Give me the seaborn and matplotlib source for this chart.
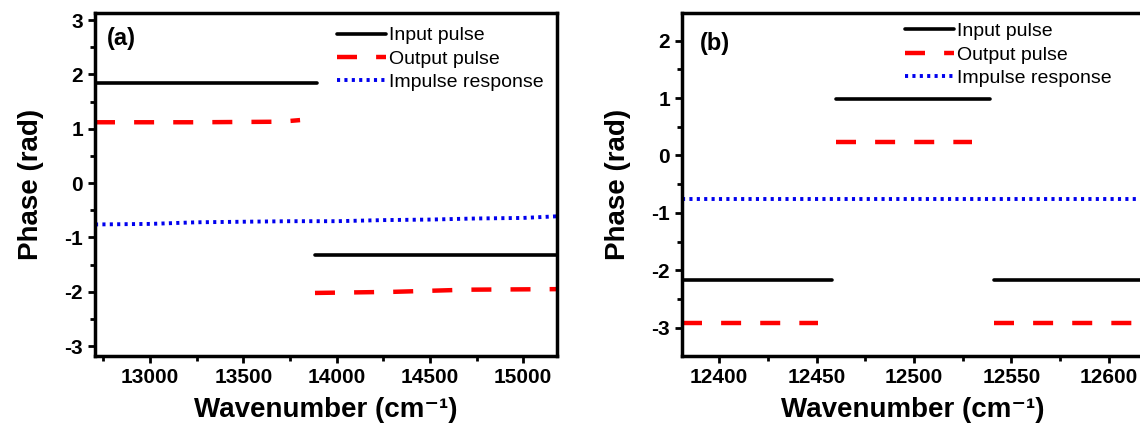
import numpy as np
import pandas as pd
import seaborn as sns
import matplotlib
matplotlib.use("Agg")
import matplotlib.pyplot as plt
from matplotlib.ticker import MultipleLocator

# ---------------- data: panel (a) ----------------
a_input_x = [[12705, 13895], [13884, 15181]]
a_input_y = [[1.84, 1.84], [-1.33, -1.33]]
a_output_x = [[12705, 13250, 13700, 13804], [13884, 14300, 14700, 15181]]
a_output_y = [[1.12, 1.12, 1.13, 1.16], [-2.02, -2.00, -1.96, -1.95]]
a_impulse_x = [12705, 13000, 13250, 13500, 13750, 14000, 14250, 14500, 14750, 15000, 15181]
a_impulse_y = [-0.76, -0.75, -0.72, -0.71, -0.70, -0.70, -0.68, -0.67, -0.65, -0.64, -0.61]

# ---------------- data: panel (b) ----------------
b_input_x = [[12381, 12458], [12460, 12539], [12541, 12618]]
b_input_y = [[-2.16, -2.16], [0.99, 0.99], [-2.16, -2.16]]
b_output_x = [[12381, 12451], [12460, 12530], [12541, 12618]]
b_output_y = [[-2.91, -2.91], [0.24, 0.24], [-2.91, -2.91]]
b_impulse_x = [12381, 12618]
b_impulse_y = [-0.75, -0.75]

series_names = ["Input pulse", "Output pulse", "Impulse response"]
panel_tags = ["(a)", "(b)"]
a_xticks = [13000, 13500, 14000, 14500, 15000]
b_xticks = [12400, 12450, 12500, 12550, 12600]

sns.set_style("ticks")
plt.rcParams["font.family"] = ["Liberation Sans", "DejaVu Sans"]
plt.rcParams["axes.unicode_minus"] = False
for key in ["text.color", "axes.labelcolor", "xtick.color", "ytick.color",
            "axes.edgecolor"]:
    plt.rcParams[key] = "black"

fig = plt.figure(figsize=(11.4, 4.26), dpi=100)
W, H = 1140, 426
ax_a = fig.add_axes([95 / W, (H - 356) / H, 462 / W, 343 / H])
ax_b = fig.add_axes([682 / W, (H - 356) / H, 462 / W, 343 / H])

styles = {
    "input": dict(color="black", linewidth=2.6, linestyle="-"),
    "output": dict(color="#ff0000", linewidth=3.2, linestyle=(0, (4.5, 4.3))),
    "impulse": dict(color="#0000ee", linewidth=2.8, linestyle=(0, (0.8, 1.1))),
}


def draw_segments(ax, xs, ys, name, key):
    for i, (x, y) in enumerate(zip(xs, ys)):
        df = pd.DataFrame({"x": x, "y": y})
        sns.lineplot(data=df, x="x", y="y", ax=ax, sort=False, estimator=None,
                     label=name if i == 0 else None, **styles[key])


draw_segments(ax_a, a_input_x, a_input_y, series_names[0], "input")
draw_segments(ax_a, a_output_x, a_output_y, series_names[1], "output")
draw_segments(ax_a, [a_impulse_x], [a_impulse_y], series_names[2], "impulse")

draw_segments(ax_b, b_input_x, b_input_y, series_names[0], "input")
draw_segments(ax_b, b_output_x, b_output_y, series_names[1], "output")
draw_segments(ax_b, [b_impulse_x], [b_impulse_y], series_names[2], "impulse")

ax_a.set_xlim(12705, 15181)
ax_a.set_ylim(-3.18, 3.13)
ax_a.set_xticks(a_xticks)
ax_a.xaxis.set_minor_locator(MultipleLocator(250))

ax_b.set_xlim(12381, 12618)
ax_b.set_ylim(-3.49, 2.48)
ax_b.set_xticks(b_xticks)
ax_b.xaxis.set_minor_locator(MultipleLocator(25))

legend_anchor = {ax_a: (0.524, 0.96), ax_b: (0.483, 0.972)}
tag_pos = {ax_a: (0.026, 0.927), ax_b: (0.039, 0.912)}

for ax, tag in zip([ax_a, ax_b], panel_tags):
    ax.yaxis.set_major_locator(MultipleLocator(1))
    ax.yaxis.set_minor_locator(MultipleLocator(0.5))
    for side in ["left", "right", "top", "bottom"]:
        ax.spines[side].set_visible(True)
        ax.spines[side].set_linewidth(2.5)
        ax.spines[side].set_color("black")
    ax.tick_params(axis="both", which="major", direction="out", length=5,
                   width=2.0, labelsize=15, pad=3.5, colors="black")
    ax.tick_params(axis="both", which="minor", direction="out", length=3.5,
                   width=2.0)
    ax.tick_params(top=False, right=False, which="both")
    for lab in ax.get_xticklabels() + ax.get_yticklabels():
        lab.set_fontweight("bold")
    ax.set_xlabel("Wavenumber (cm\u207b\u00b9)", fontsize=20,
                  fontweight="bold", labelpad=7)
    ax.set_ylabel("Phase (rad)", fontsize=20, fontweight="bold", labelpad=15)
    ax.text(*tag_pos[ax], tag, transform=ax.transAxes, fontsize=17,
            fontweight="bold", va="center", ha="left")
    ax.legend(loc="upper left", bbox_to_anchor=legend_anchor[ax],
              frameon=False, fontsize=14, handlelength=2.5,
              handletextpad=0.15, labelspacing=0.3, borderpad=0,
              borderaxespad=0)

fig.savefig("out.png", dpi=100)
